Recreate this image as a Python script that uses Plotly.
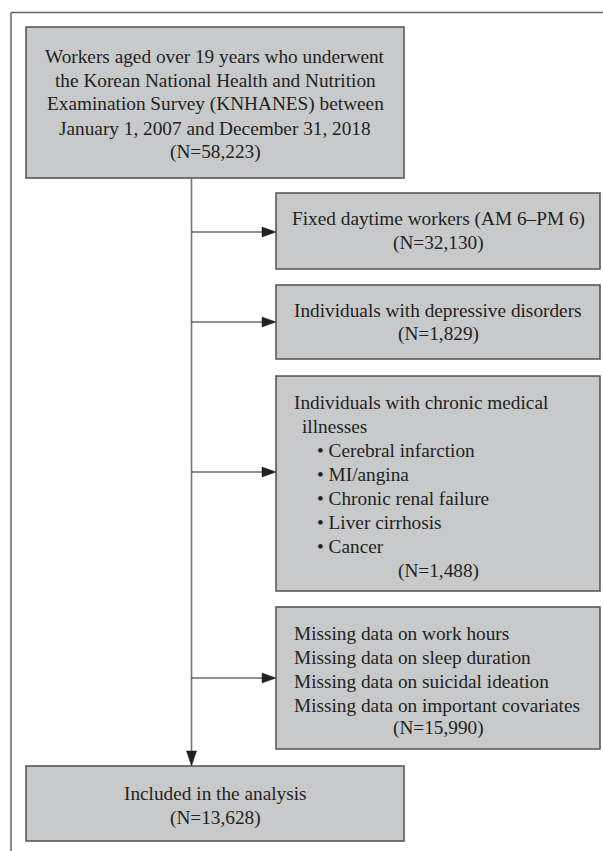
import plotly.graph_objects as go

# ---- data ----
start_lines = ["Workers aged over 19 years who underwent",
               "the Korean National Health and Nutrition",
               "Examination Survey (KNHANES) between",
               "January 1, 2007 and December 31, 2018"]
start_n = "58,223"
excl_titles = [
    ["Fixed daytime workers (AM 6–PM 6)"],
    ["Individuals with depressive disorders"],
    ["Individuals with chronic medical", "illnesses"],
    ["Missing data on work hours", "Missing data on sleep duration",
     "Missing data on suicidal ideation", "Missing data on important covariates"],
]
chronic_items = ["Cerebral infarction", "MI/angina", "Chronic renal failure",
                 "Liver cirrhosis", "Cancer"]
excl_n = ["32,130", "1,829", "1,488", "15,990"]
final_lines = ["Included in the analysis"]
final_n = "13,628"

# ---- layout constants (pixels) ----
W, H = 603, 851
FILL = "#c8c9cb"
EDGE = "#505050"
TXT = "#231f20"
FONT = "Liberation Serif"
FS = 19.3
LH = 24

fig = go.Figure()
fig.add_trace(go.Scatter(x=[0, W], y=[0, H], mode="markers",
                         marker=dict(opacity=0), hoverinfo="skip", showlegend=False))

shapes = []
ann = []

def box(x0, y0, x1, y1):
    shapes.append(dict(type="rect", x0=x0, y0=y0, x1=x1, y1=y1,
                       fillcolor=FILL, line=dict(color=EDGE, width=1.5), layer="below"))

def text(x, y, s, anchor="center"):
    ann.append(dict(x=x, y=y, text=s, showarrow=False, xanchor=anchor, yanchor="middle",
                    font=dict(family=FONT, size=FS, color=TXT)))

# outer frame
shapes.append(dict(type="line", x0=11, y0=12.5, x1=W, y1=12.5, line=dict(color="#666", width=1.5)))
shapes.append(dict(type="line", x0=11, y0=12.5, x1=11, y1=H, line=dict(color="#666", width=1.5)))

# main column
LX0, LX1 = 26, 404
CX = 191.5
RX0, RX1 = 276, 600
RC = (RX0 + RX1) / 2

# top box
box(LX0, 27, LX1, 178)
lines = start_lines + [f"(N={start_n})"]
y0 = 104 - (len(lines) - 1) * LH / 2
for i, s in enumerate(lines):
    text((LX0 + LX1) / 2, y0 + i * LH, s)

# vertical line and down arrow
shapes.append(dict(type="line", x0=CX, y0=178, x1=CX, y1=752, line=dict(color="#777", width=1.6)))
shapes.append(dict(type="path", path=f"M {CX-5},{751} L {CX+5},{751} L {CX},{766} Z",
                   fillcolor="#222", line=dict(color="#222", width=0.5)))

# exclusion boxes
ebox = [(193, 269, 232), (285, 359, 322), (376, 591, 472), (607, 749, 678)]
for k, (t, b, ay) in enumerate(ebox):
    box(RX0, t, RX1, b)
    shapes.append(dict(type="line", x0=CX, y0=ay, x1=RX0 - 12, y1=ay, line=dict(color="#222", width=1)))
    shapes.append(dict(type="path", path=f"M {RX0-14},{ay-5} L {RX0-14},{ay+5} L {RX0},{ay} Z",
                       fillcolor="#222", line=dict(color="#222", width=0.5)))

# box 2, 3: centered
for k in (0, 1):
    t, b, _ = ebox[k]
    c = (t + b) / 2
    text(RC, c - LH / 2, excl_titles[k][0])
    text(RC, c + LH / 2, f"(N={excl_n[k]})")

# box 4: chronic illnesses
text(292, 402, excl_titles[2][0], "left")
text(300, 426, excl_titles[2][1], "left")
for i, s in enumerate(chronic_items):
    text(315, 450 + i * LH, "• " + s, "left")
text(RC, 571, f"(N={excl_n[2]})")

# box 5: missing data
for i, s in enumerate(excl_titles[3]):
    text(292, 633 + i * LH, s, "left")
text(RC, 728, f"(N={excl_n[3]})")

# final box
box(LX0, 766, LX1, 841)
text((LX0 + LX1) / 2, 793, final_lines[0])
text((LX0 + LX1) / 2, 818, f"(N={final_n})")

fig.update_layout(
    width=W, height=H, margin=dict(l=0, r=0, t=0, b=0),
    paper_bgcolor="white", plot_bgcolor="white",
    xaxis=dict(range=[0, W], visible=False, fixedrange=True),
    yaxis=dict(range=[H, 0], visible=False, fixedrange=True),
    shapes=shapes, annotations=ann, showlegend=False,
)
fig.write_html("out.html", config={"displayModeBar": False},
               post_script="document.body.style.margin='0px';document.body.style.overflow='hidden';")
